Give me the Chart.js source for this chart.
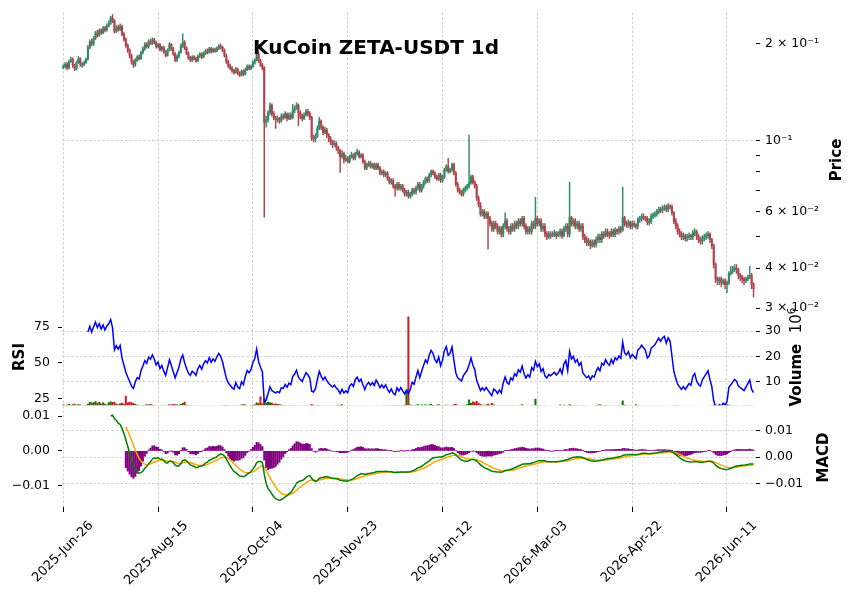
<!DOCTYPE html>
<html>
<head>
<meta charset="utf-8">
<script src="https://cdn.jsdelivr.net/npm/chart.js@4.4.1/dist/chart.umd.min.js"></script>
<style>
  html, body { margin: 0; padding: 0; background: #fff; }
  #wrap { position: relative; width: 856px; height: 599px; }
  #wrap canvas { position: absolute; left: 0; top: 0; }
</style>
</head>
<body>
<div id="wrap">
  <canvas id="priceChart" width="856" height="599"></canvas>
  <canvas id="rsiChart" width="856" height="599"></canvas>
  <canvas id="macdChart" width="856" height="599"></canvas>
</div>
<script>
// daily candles, 2025-06-26 .. 2026-06-25 (index 0 = first day)
const tickPositions = [0, 50, 100, 150, 200, 250, 300, 350];
const tickLabels = ['2025-Jun-26', '2025-Aug-15', '2025-Oct-04', '2025-Nov-23',
                    '2026-Jan-12', '2026-Mar-03', '2026-Apr-22', '2026-Jun-11'];

const firstOpen = 0.169;
const closes = [
  0.170, 0.173, 0.168, 0.176, 0.179, 0.171, 0.167, 0.175, 0.180, 0.172,
  0.172, 0.175, 0.179, 0.195, 0.203, 0.200, 0.208, 0.216, 0.213, 0.220,
  0.217, 0.224, 0.221, 0.228, 0.232, 0.241, 0.236, 0.219, 0.225, 0.222,
  0.227, 0.215, 0.207, 0.198, 0.191, 0.184, 0.176, 0.172, 0.178, 0.182,
  0.180, 0.188, 0.193, 0.199, 0.196, 0.203, 0.201, 0.206, 0.202, 0.196,
  0.199, 0.192, 0.195, 0.189, 0.184, 0.191, 0.199, 0.193, 0.186, 0.178,
  0.183, 0.188, 0.197, 0.202, 0.194, 0.187, 0.181, 0.178, 0.182, 0.180,
  0.177, 0.183, 0.186, 0.182, 0.187, 0.190, 0.188, 0.193, 0.189, 0.192,
  0.190, 0.194, 0.197, 0.195, 0.191, 0.184, 0.176, 0.171, 0.168, 0.165,
  0.163, 0.167, 0.162, 0.160, 0.164, 0.161, 0.166, 0.170, 0.168, 0.170,
  0.175, 0.178, 0.186, 0.177, 0.172, 0.168, 0.114, 0.116, 0.122, 0.129,
  0.121, 0.118, 0.116, 0.117, 0.115, 0.119, 0.118, 0.121, 0.117, 0.120,
  0.118, 0.124, 0.126, 0.129, 0.122, 0.119, 0.117, 0.120, 0.123, 0.121,
  0.118, 0.102, 0.101, 0.103, 0.109, 0.115, 0.110, 0.106, 0.108, 0.104,
  0.101, 0.099, 0.097, 0.098, 0.095, 0.093, 0.089, 0.091, 0.087, 0.088,
  0.086, 0.089, 0.090, 0.088, 0.091, 0.092, 0.089, 0.090, 0.086, 0.082,
  0.084, 0.085, 0.083, 0.084, 0.082, 0.084, 0.082, 0.079, 0.080, 0.078,
  0.079, 0.076, 0.074, 0.075, 0.072, 0.071, 0.073, 0.071, 0.072, 0.070,
  0.068, 0.069, 0.067, 0.068, 0.070, 0.069, 0.071, 0.073, 0.070, 0.072,
  0.074, 0.076, 0.075, 0.078, 0.080, 0.079, 0.077, 0.076, 0.078, 0.075,
  0.077, 0.081, 0.083, 0.080, 0.081, 0.084, 0.079, 0.073, 0.070, 0.069,
  0.068, 0.070, 0.071, 0.072, 0.074, 0.077, 0.074, 0.072, 0.066, 0.063,
  0.059, 0.060, 0.058, 0.059, 0.057, 0.055, 0.053, 0.055, 0.054, 0.052,
  0.053, 0.051, 0.054, 0.056, 0.053, 0.052, 0.054, 0.053, 0.055, 0.054,
  0.056, 0.055, 0.057, 0.054, 0.052, 0.053, 0.052, 0.055, 0.054, 0.057,
  0.055, 0.056, 0.053, 0.054, 0.051, 0.050, 0.051, 0.0505, 0.051, 0.0515,
  0.0505, 0.051, 0.052, 0.0505, 0.053, 0.054, 0.051, 0.0575, 0.055, 0.056,
  0.054, 0.055, 0.053, 0.054, 0.050, 0.049, 0.048, 0.0485, 0.047, 0.048,
  0.0475, 0.049, 0.050, 0.049, 0.051, 0.0505, 0.052, 0.051, 0.0505, 0.052,
  0.051, 0.0525, 0.052, 0.053, 0.0525, 0.0575, 0.055, 0.0545, 0.0555, 0.054,
  0.055, 0.0545, 0.054, 0.0565, 0.057, 0.058, 0.0575, 0.057, 0.0555, 0.056,
  0.058, 0.0585, 0.059, 0.060, 0.061, 0.0605, 0.0615, 0.062, 0.061, 0.0625,
  0.062, 0.0595, 0.056, 0.054, 0.052, 0.051, 0.050, 0.0505, 0.0495, 0.050,
  0.0505, 0.050, 0.0515, 0.052, 0.050, 0.049, 0.0485, 0.0495, 0.050, 0.0505,
  0.051, 0.049, 0.047, 0.041, 0.037, 0.0365, 0.037, 0.036, 0.0365, 0.0355,
  0.036, 0.0385, 0.039, 0.0395, 0.040, 0.0395, 0.038, 0.0375, 0.037, 0.0365,
  0.037, 0.0375, 0.038, 0.0355, 0.0345
];
const highs = [
  0.172, 0.175, 0.175, 0.178, 0.182, 0.181, 0.173, 0.177, 0.183, 0.181,
  0.175, 0.177, 0.181, 0.198, 0.206, 0.207, 0.211, 0.219, 0.221, 0.223,
  0.223, 0.227, 0.227, 0.231, 0.236, 0.244, 0.247, 0.238, 0.228, 0.229,
  0.231, 0.229, 0.217, 0.209, 0.200, 0.193, 0.186, 0.178, 0.180, 0.184,
  0.185, 0.190, 0.196, 0.202, 0.202, 0.206, 0.207, 0.209, 0.208, 0.204,
  0.201, 0.201, 0.197, 0.197, 0.191, 0.193, 0.202, 0.201, 0.195, 0.188,
  0.185, 0.190, 0.200, 0.215, 0.205, 0.196, 0.189, 0.183, 0.184, 0.184,
  0.182, 0.185, 0.188, 0.188, 0.189, 0.192, 0.193, 0.195, 0.195, 0.194,
  0.194, 0.196, 0.199, 0.200, 0.197, 0.193, 0.186, 0.178, 0.173, 0.170,
  0.167, 0.169, 0.168, 0.164, 0.166, 0.166, 0.168, 0.172, 0.172, 0.172,
  0.177, 0.180, 0.192, 0.188, 0.179, 0.174, 0.170, 0.119, 0.124, 0.131,
  0.130, 0.123, 0.119, 0.119, 0.118, 0.121, 0.121, 0.123, 0.122, 0.122,
  0.122, 0.1295, 0.128, 0.131, 0.130, 0.124, 0.121, 0.122, 0.125, 0.125,
  0.123, 0.119, 0.104, 0.105, 0.111, 0.118, 0.116, 0.111, 0.110, 0.109,
  0.105, 0.103, 0.100, 0.100, 0.099, 0.096, 0.094, 0.093, 0.092, 0.090,
  0.089, 0.090, 0.092, 0.091, 0.092, 0.094, 0.093, 0.091, 0.091, 0.087,
  0.085, 0.086, 0.086, 0.085, 0.085, 0.085, 0.085, 0.083, 0.081, 0.081,
  0.080, 0.080, 0.077, 0.076, 0.076, 0.073, 0.074, 0.074, 0.073, 0.073,
  0.071, 0.070, 0.070, 0.069, 0.071, 0.071, 0.072, 0.074, 0.074, 0.073,
  0.075, 0.077, 0.077, 0.079, 0.081, 0.081, 0.080, 0.078, 0.079, 0.079,
  0.078, 0.082, 0.084, 0.088, 0.082, 0.085, 0.085, 0.080, 0.074, 0.071,
  0.070, 0.071, 0.072, 0.073, 0.104, 0.078, 0.078, 0.075, 0.073, 0.067,
  0.064, 0.061, 0.061, 0.060, 0.060, 0.058, 0.056, 0.056, 0.056, 0.055,
  0.054, 0.054, 0.055, 0.0595, 0.057, 0.054, 0.055, 0.055, 0.056, 0.056,
  0.057, 0.057, 0.058, 0.058, 0.055, 0.054, 0.054, 0.056, 0.056, 0.0665,
  0.058, 0.057, 0.057, 0.055, 0.055, 0.052, 0.052, 0.052, 0.052, 0.0525,
  0.052, 0.052, 0.053, 0.053, 0.054, 0.055, 0.055, 0.074, 0.058, 0.057,
  0.057, 0.056, 0.056, 0.055, 0.055, 0.051, 0.050, 0.0495, 0.049, 0.049,
  0.049, 0.050, 0.051, 0.051, 0.052, 0.052, 0.053, 0.053, 0.052, 0.053,
  0.053, 0.0535, 0.053, 0.054, 0.054, 0.0715, 0.058, 0.056, 0.0565, 0.056,
  0.056, 0.056, 0.055, 0.0575, 0.058, 0.059, 0.059, 0.058, 0.058, 0.057,
  0.059, 0.0595, 0.060, 0.061, 0.062, 0.062, 0.0625, 0.063, 0.063, 0.0635,
  0.063, 0.063, 0.060, 0.057, 0.055, 0.053, 0.052, 0.0515, 0.051, 0.051,
  0.0515, 0.051, 0.0525, 0.053, 0.0525, 0.051, 0.050, 0.0505, 0.051, 0.0515,
  0.052, 0.0515, 0.0495, 0.0475, 0.0415, 0.0375, 0.0375, 0.0375, 0.037, 0.037,
  0.0365, 0.039, 0.0405, 0.0405, 0.041, 0.041, 0.040, 0.0385, 0.038, 0.0375,
  0.0375, 0.038, 0.0405, 0.0385, 0.036
];
const lows = [
  0.167, 0.168, 0.166, 0.167, 0.175, 0.169, 0.165, 0.166, 0.174, 0.170,
  0.169, 0.171, 0.174, 0.178, 0.193, 0.197, 0.198, 0.206, 0.210, 0.211,
  0.214, 0.215, 0.218, 0.219, 0.226, 0.230, 0.233, 0.216, 0.217, 0.219,
  0.220, 0.212, 0.204, 0.195, 0.188, 0.181, 0.173, 0.169, 0.170, 0.176,
  0.178, 0.179, 0.186, 0.191, 0.194, 0.194, 0.199, 0.199, 0.200, 0.194,
  0.194, 0.190, 0.190, 0.187, 0.182, 0.183, 0.190, 0.191, 0.184, 0.176,
  0.176, 0.181, 0.187, 0.195, 0.192, 0.185, 0.179, 0.176, 0.176, 0.178,
  0.175, 0.176, 0.181, 0.180, 0.181, 0.185, 0.186, 0.187, 0.187, 0.188,
  0.188, 0.189, 0.192, 0.193, 0.189, 0.182, 0.174, 0.169, 0.166, 0.163,
  0.161, 0.162, 0.160, 0.158, 0.159, 0.159, 0.160, 0.165, 0.166, 0.166,
  0.169, 0.173, 0.177, 0.175, 0.170, 0.166, 0.0576, 0.110, 0.114, 0.120,
  0.119, 0.116, 0.109, 0.114, 0.113, 0.114, 0.116, 0.117, 0.115, 0.116,
  0.116, 0.117, 0.122, 0.125, 0.111, 0.117, 0.115, 0.116, 0.119, 0.119,
  0.116, 0.100, 0.099, 0.099, 0.102, 0.108, 0.108, 0.104, 0.105, 0.102,
  0.099, 0.097, 0.095, 0.096, 0.093, 0.091, 0.0795, 0.088, 0.085, 0.086,
  0.085, 0.085, 0.088, 0.087, 0.087, 0.090, 0.088, 0.088, 0.085, 0.081,
  0.081, 0.083, 0.082, 0.082, 0.081, 0.081, 0.081, 0.078, 0.078, 0.077,
  0.077, 0.075, 0.073, 0.073, 0.071, 0.067, 0.070, 0.070, 0.070, 0.069,
  0.067, 0.067, 0.066, 0.066, 0.067, 0.068, 0.068, 0.070, 0.069, 0.069,
  0.071, 0.073, 0.074, 0.074, 0.077, 0.078, 0.076, 0.075, 0.075, 0.074,
  0.074, 0.076, 0.080, 0.079, 0.079, 0.080, 0.078, 0.072, 0.069, 0.068,
  0.067, 0.067, 0.069, 0.070, 0.071, 0.073, 0.073, 0.071, 0.065, 0.062,
  0.058, 0.058, 0.057, 0.057, 0.0458, 0.054, 0.052, 0.052, 0.053, 0.051,
  0.051, 0.050, 0.050, 0.053, 0.052, 0.051, 0.051, 0.052, 0.052, 0.053,
  0.053, 0.054, 0.054, 0.053, 0.051, 0.051, 0.051, 0.051, 0.053, 0.053,
  0.054, 0.054, 0.052, 0.052, 0.050, 0.049, 0.0495, 0.0495, 0.050, 0.050,
  0.0495, 0.050, 0.050, 0.0495, 0.050, 0.052, 0.050, 0.050, 0.054, 0.054,
  0.053, 0.053, 0.052, 0.052, 0.049, 0.048, 0.047, 0.047, 0.046, 0.0465,
  0.0465, 0.0465, 0.048, 0.048, 0.048, 0.0495, 0.050, 0.050, 0.0495, 0.050,
  0.050, 0.050, 0.051, 0.051, 0.0515, 0.052, 0.054, 0.0535, 0.0535, 0.053,
  0.053, 0.0535, 0.053, 0.053, 0.0555, 0.056, 0.0565, 0.056, 0.0545, 0.0545,
  0.055, 0.057, 0.0575, 0.058, 0.059, 0.0595, 0.0595, 0.0605, 0.060, 0.060,
  0.061, 0.0585, 0.055, 0.053, 0.051, 0.050, 0.049, 0.049, 0.0485, 0.0485,
  0.049, 0.049, 0.049, 0.0505, 0.049, 0.048, 0.0475, 0.0475, 0.0485, 0.049,
  0.0495, 0.048, 0.046, 0.040, 0.036, 0.0355, 0.0355, 0.035, 0.0355, 0.0345,
  0.0335, 0.0355, 0.038, 0.0385, 0.039, 0.0385, 0.037, 0.0365, 0.036, 0.0355,
  0.036, 0.0365, 0.037, 0.0345, 0.0325
];
// volume in millions (axis shows 10^6)
const volumes = [
  0.9, 0.6, 0.8, 1.1, 0.7, 1.0, 1.2, 0.8, 1.0, 0.9,
  0.5, 0.6, 0.7, 1.2, 1.9, 1.6, 1.7, 2.1, 1.5, 1.8,
  1.3, 1.6, 1.2, 0.9, 1.7, 2.0, 1.8, 1.9, 1.2, 1.0,
  1.3, 1.5, 1.1, 4.3, 1.6, 1.9, 1.7, 1.4, 1.1, 0.8,
  0.6, 0.5, 0.7, 0.6, 1.0, 0.9, 1.1, 0.8, 0.6, 0.5,
  0.5, 0.4, 0.6, 0.5, 0.4, 0.7, 1.0, 0.9, 1.1, 1.0,
  0.9, 0.8, 1.1, 1.4, 1.9, 0.8, 0.6, 0.5, 0.4, 0.5,
  0.4, 0.5, 0.4, 0.3, 0.4, 0.5, 0.4, 0.3, 0.4, 0.5,
  0.4, 0.3, 0.5, 0.4, 0.5, 0.6, 0.7, 0.6, 0.5, 0.4,
  0.5, 0.4, 0.6, 0.5, 0.9, 1.0, 0.9, 0.6, 0.5, 0.7,
  0.8, 0.9, 1.6, 1.4, 4.0, 1.3, 3.2, 1.6, 1.9, 1.7,
  1.5, 1.2, 1.3, 1.1, 1.0, 0.8, 0.7, 0.6, 0.5, 0.6,
  0.5, 0.6, 0.5, 0.4, 0.6, 0.5, 0.4, 0.5, 0.4, 0.5,
  0.6, 1.1, 0.7, 0.5, 0.6, 0.5, 0.4, 0.5, 0.4, 0.5,
  0.4, 0.5, 0.4, 0.5, 0.6, 0.7, 0.8, 1.0, 0.6, 0.5,
  0.4, 0.5, 0.4, 0.3, 0.4, 0.5, 0.4, 0.3, 0.4, 0.5,
  0.4, 0.3, 0.4, 0.3, 0.4, 0.5, 0.4, 0.3, 0.4, 0.5,
  0.5, 0.6, 0.5, 0.4, 0.6, 0.7, 0.5, 0.6, 0.5, 0.7,
  0.8, 6.3, 35.6, 0.9, 0.7, 0.6, 0.8, 1.0, 0.6, 0.9,
  0.7, 1.0, 0.6, 0.9, 1.1, 0.7, 0.6, 0.8, 1.0, 0.7,
  0.6, 0.7, 0.8, 0.6, 0.5, 0.7, 1.0, 1.1, 0.6, 0.5,
  0.5, 0.6, 0.7, 1.0, 2.8, 1.4, 2.0, 1.7, 2.2, 1.5,
  1.1, 0.8, 0.7, 0.9, 1.2, 0.8, 1.4, 0.9, 0.6, 0.5,
  0.5, 0.4, 0.5, 0.6, 0.5, 0.4, 0.5, 0.6, 0.5, 0.4,
  0.5, 0.6, 1.0, 0.5, 0.4, 0.5, 0.4, 0.6, 0.5, 3.1,
  0.7, 0.6, 0.5, 0.4, 0.5, 0.4, 0.3, 0.4, 0.3, 0.4,
  0.4, 0.3, 0.9, 0.4, 0.8, 0.6, 0.5, 1.0, 0.7, 0.6,
  0.5, 0.4, 0.5, 0.4, 0.6, 0.5, 0.4, 0.3, 0.4, 0.3,
  0.4, 0.6, 0.8, 1.0, 0.6, 0.5, 0.7, 0.5, 0.4, 0.5,
  0.4, 0.5, 0.4, 0.6, 0.5, 2.4, 0.8, 0.6, 0.5, 0.4,
  0.5, 0.4, 1.0, 0.6, 0.5, 0.4, 0.5, 0.4, 0.3, 0.4,
  0.5, 0.4, 0.3, 0.4, 0.5, 0.4, 0.3, 0.4, 0.3, 0.4,
  0.3, 0.4, 0.5, 0.6, 0.5, 0.4, 0.3, 0.4, 0.3, 0.4,
  0.3, 0.4, 0.3, 0.4, 0.3, 0.4, 0.3, 0.3, 0.4, 0.3,
  0.3, 0.4, 0.5, 0.8, 0.9, 0.6, 0.5, 0.4, 0.5, 0.6,
  1.0, 0.8, 0.6, 0.5, 0.4, 0.5, 0.4, 0.3, 0.4, 0.5,
  0.4, 0.5, 0.6, 0.5, 0.4
];

const priceTicks = [0.2, 0.1, 0.09, 0.08, 0.07, 0.06, 0.05, 0.04, 0.03];
const priceTickLabels = ['2 × 10⁻¹', '10⁻¹', '', '', '', '6 × 10⁻²', '', '4 × 10⁻²', '3 × 10⁻²'];
const rsiTicks = [25, 50, 75];
const volTicks = [10, 20, 30];
const macdTicks = [-0.01, 0, 0.01];
const macdTickLabels = ['−0.01', '0.00', '0.01'];

// ---- derived series ----
const idx = closes.map((_, i) => i);
const opens = closes.map((c, i) => (i === 0 ? firstOpen : closes[i - 1]));

// Wilder-style RSI (ewm alpha 1/n)
function rsiSeries(values, n) {
  const a = 1 / n;
  let up = null, down = null;
  return values.map((v, i) => {
    const d = i === 0 ? 0 : v - values[i - 1];
    const u = d > 0 ? d : 0, dn = d < 0 ? -d : 0;
    up = up === null ? u : a * u + (1 - a) * up;
    down = down === null ? dn : a * dn + (1 - a) * down;
    if (i < n - 1) return null;
    return down === 0 ? 100 : 100 - 100 / (1 + up / down);
  });
}
function emaSeries(values, span, minPeriods) {
  const a = 2 / (span + 1);
  let prev = null, seen = 0;
  return values.map(v => {
    if (v === null) return null;
    prev = prev === null ? v : a * v + (1 - a) * prev;
    seen += 1;
    return seen >= minPeriods ? prev : null;
  });
}
const rsi = rsiSeries(closes, 14);
const ema12 = emaSeries(closes, 12, 26);
const ema26 = emaSeries(closes, 26, 26);
const macd = idx.map(i => (ema26[i] === null ? null : ema12[i] - ema26[i]));
const signal = emaSeries(macd, 9, 9);
const hist = idx.map(i => (signal[i] === null ? null : macd[i] - signal[i]));
const toPoints = arr => idx.filter(i => arr[i] !== null).map(i => ({ x: i, y: arr[i] }));

// ---- styling / layout ----
Chart.defaults.font.family = '"DejaVu Sans", sans-serif';
Chart.defaults.font.size = 12.5;
Chart.defaults.color = '#000';

const X_MIN = -0.66, X_MAX = 365.3;
const GRID = '#c4c4c4';
const UP = '#2f8a68', DOWN = '#b3424a';
const VOL_UP = '#008000', VOL_DOWN = '#cc1f1f';
const isUp = idx.map(i => closes[i] >= opens[i]);

function xScale(withLabels) {
  return {
    type: 'linear', min: X_MIN, max: X_MAX, offset: false,
    afterBuildTicks: s => { s.ticks = tickPositions.map(v => ({ value: v })); },
    afterFit: s => { s.height = withLabels ? 92 : 0; },
    border: { display: false, dash: [2.5, 2] },
    grid: { offset: false, color: GRID, lineWidth: 0.8, drawTicks: withLabels, tickLength: 5, tickColor: '#000', tickWidth: 1 },
    ticks: withLabels
      ? { autoSkip: false, minRotation: 45, maxRotation: 45, labelOffset: 28, padding: 6,
          font: { size: 13 }, callback: (v, i) => tickLabels[i] }
      : { display: false }
  };
}
function yScale(cfg) {
  const left = cfg.position === 'left';
  return {
    type: cfg.type || 'linear', position: cfg.position, min: cfg.min, max: cfg.max,
    afterBuildTicks: s => { s.ticks = cfg.ticks.map(v => ({ value: v })); },
    afterFit: s => { s.width = left ? 62 : 100; },
    border: { display: false, dash: [2.5, 2] },
    grid: { drawOnChartArea: !!cfg.grid, color: cfg.grid || 'transparent', lineWidth: 0.8,
            drawTicks: true, tickLength: 4, tickColor: '#000', tickWidth: 1 },
    ticks: { autoSkip: false, padding: left ? 8 : 5, callback: (v, i) => cfg.labels[i] }
  };
}
function vText(ctx, text, x, y, font) {
  ctx.save();
  ctx.translate(x, y);
  ctx.rotate(-Math.PI / 2);
  ctx.font = font;
  ctx.fillStyle = '#000';
  ctx.textAlign = 'center';
  ctx.textBaseline = 'middle';
  ctx.fillText(text, 0, 0);
  ctx.restore();
}
const BOLD = 'bold 15px "DejaVu Sans"';
const common = {
  responsive: false, animation: false, devicePixelRatio: 1,
  plugins: { legend: { display: false }, tooltip: { enabled: false } }
};

// ---- price panel ----
new Chart(document.getElementById('priceChart'), {
  type: 'bar',
  data: {
    datasets: [
      {
        data: idx.map(i => ({ x: i, y: [opens[i], closes[i]] })),
        backgroundColor: idx.map(i => (isUp[i] ? UP : DOWN)),
        barThickness: 1.4, minBarLength: 1, grouped: false, order: 0
      },
      {
        data: idx.map(i => ({ x: i, y: [Math.min(lows[i], opens[i], closes[i]), Math.max(highs[i], opens[i], closes[i])] })),
        backgroundColor: idx.map(i => (isUp[i] ? UP : DOWN)),
        barThickness: 0.8, grouped: false, order: 1
      }
    ]
  },
  options: {
    ...common,
    layout: { autoPadding: false, padding: { left: 62, right: 0, top: 11.7, bottom: 293.5 } },
    scales: {
      x: xScale(false),
      y: yScale({
        type: 'logarithmic', position: 'right', min: 0.03056, max: 0.2506,
        ticks: priceTicks, labels: priceTickLabels,
        grid: ctx => (ctx.tick && ctx.tick.value === 0.1 ? GRID : 'transparent')
      })
    }
  },
  plugins: [{
    id: 'priceText',
    afterDraw(chart) {
      const ctx = chart.ctx;
      ctx.save();
      ctx.font = 'bold 20px "DejaVu Sans"';
      ctx.fillStyle = '#000';
      ctx.textAlign = 'center';
      ctx.textBaseline = 'alphabetic';
      ctx.fillText('KuCoin ZETA-USDT 1d', 376, 53.5);
      ctx.restore();
      vText(ctx, 'Price', 837, 160, BOLD);
    }
  }]
});

// ---- RSI + volume panel ----
new Chart(document.getElementById('rsiChart'), {
  type: 'bar',
  data: {
    datasets: [
      {
        type: 'line', data: toPoints(rsi), yAxisID: 'yRsi',
        borderColor: '#0000ff', borderWidth: 1.5, pointRadius: 0, tension: 0, order: 0
      },
      {
        data: idx.map(i => ({ x: i, y: volumes[i] })), yAxisID: 'yVol',
        backgroundColor: idx.map(i => (isUp[i] ? VOL_UP : VOL_DOWN)),
        barThickness: 1.4, grouped: false, order: 1
      }
    ]
  },
  options: {
    ...common,
    layout: { autoPadding: false, padding: { left: 0, right: 0, top: 306, bottom: 193.7 } },
    scales: {
      x: xScale(false),
      yRsi: yScale({ position: 'left', min: 20.6, max: 89.6, ticks: rsiTicks, labels: ['25', '50', '75'] }),
      yVol: yScale({ position: 'right', min: 0.67, max: 39.9, ticks: volTicks, labels: ['10', '20', '30'], grid: GRID })
    }
  },
  plugins: [{
    id: 'rsiText',
    afterDraw(chart) {
      const ctx = chart.ctx;
      vText(ctx, 'RSI', 20, 357, BOLD);
      // "Volume  10^6"
      ctx.save();
      ctx.translate(797.5, 357);
      ctx.rotate(-Math.PI / 2);
      ctx.fillStyle = '#000';
      ctx.textBaseline = 'middle';
      ctx.textAlign = 'left';
      ctx.font = BOLD;
      const w1 = ctx.measureText('Volume  ').width;
      ctx.font = '15px "DejaVu Sans"';
      const w2 = ctx.measureText('10').width;
      ctx.font = '10.5px "DejaVu Sans"';
      const w3 = ctx.measureText('6').width;
      const x0 = -(w1 + w2 + w3) / 2;
      ctx.font = BOLD;
      ctx.fillText('Volume  ', x0, 0);
      ctx.font = '15px "DejaVu Sans"';
      ctx.fillText('10', x0 + w1, 0);
      ctx.font = '10.5px "DejaVu Sans"';
      ctx.fillText('6', x0 + w1 + w2, -5);
      ctx.restore();
    }
  }]
});

// ---- MACD panel ----
new Chart(document.getElementById('macdChart'), {
  type: 'bar',
  data: {
    datasets: [
      {
        type: 'line', data: toPoints(macd), yAxisID: 'yMacd',
        borderColor: '#008000', borderWidth: 1.5, pointRadius: 0, tension: 0, order: 0
      },
      {
        type: 'line', data: toPoints(signal), yAxisID: 'yMacd',
        borderColor: '#ffa500', borderWidth: 1.5, pointRadius: 0, tension: 0, order: 0
      },
      {
        data: toPoints(hist), yAxisID: 'yHist',
        backgroundColor: '#800080', barThickness: 1.4, grouped: false, order: 2
      }
    ]
  },
  options: {
    ...common,
    layout: { autoPadding: false, padding: { left: 0, right: 0, top: 406, bottom: 0 } },
    scales: {
      x: xScale(true),
      yHist: yScale({ position: 'left', min: -0.0161, max: 0.01288, ticks: macdTicks, labels: macdTickLabels }),
      yMacd: yScale({ position: 'right', min: -0.01885, max: 0.01923, ticks: macdTicks, labels: macdTickLabels, grid: GRID })
    }
  },
  plugins: [{
    id: 'macdText',
    afterDraw(chart) { vText(chart.ctx, 'MACD', 824, 457.5, BOLD); }
  }]
});
</script>
</body>
</html>
